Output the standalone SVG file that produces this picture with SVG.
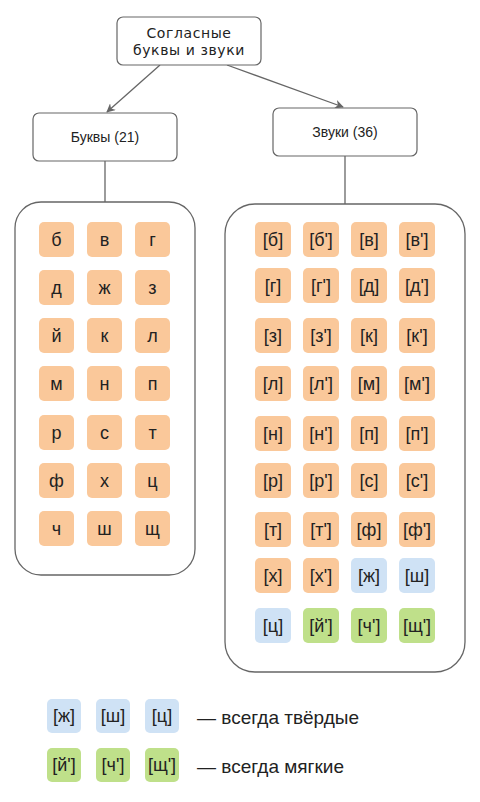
<svg xmlns="http://www.w3.org/2000/svg" width="480" height="802" viewBox="0 0 480 802">
<style>
.box{fill:#fff;stroke:#666;stroke-width:1.2}
.cont{fill:#fff;stroke:#666;stroke-width:1.3}
.o{fill:#fac89a}
.b{fill:#cfe2f5}
.g{fill:#bfe08a}
.t{font-family:"Liberation Sans",Arial,sans-serif;font-size:18px;fill:#222;text-anchor:middle;dominant-baseline:central}
.h{font-family:"Liberation Sans",Arial,sans-serif;font-size:14px;fill:#222;text-anchor:middle;dominant-baseline:central}
.top{font-family:"DejaVu Sans",sans-serif;font-size:14px;fill:#222;text-anchor:middle;letter-spacing:0.6px}
.lg{font-family:"Liberation Sans",Arial,sans-serif;font-size:19px;fill:#222;dominant-baseline:central}
.c{stroke:#666;stroke-width:1.3;fill:none}
</style>
<defs>
<marker id="ar" viewBox="0 0 10 10" refX="9" refY="5" markerWidth="9" markerHeight="9" orient="auto" markerUnits="userSpaceOnUse">
<path d="M0,0 L10,5 L0,10 L3,5 Z" fill="#666"/>
</marker>
</defs>
<g id="connectors">
<line class="c" x1="160" y1="65" x2="107" y2="112" marker-end="url(#ar)"/>
<line class="c" x1="227" y1="65" x2="343" y2="107" marker-end="url(#ar)"/>
<line class="c" x1="105" y1="161" x2="105" y2="202"/>
<line class="c" x1="345" y1="156" x2="345" y2="204"/>
</g>
<g id="root">
<rect class="box" x="117" y="17" width="144" height="48" rx="6"/>
<text class="top" x="189" y="38">Согласные</text>
<text class="top" x="189" y="54.5">буквы и звуки</text>
</g>
<g id="letters">
<rect class="box" x="33" y="113" width="144" height="48" rx="6"/>
<text class="h" x="105" y="137">Буквы (21)</text>
</g>
<g id="sounds">
<rect class="box" x="273" y="108" width="144" height="48" rx="6"/>
<text class="h" x="345" y="132">Звуки (36)</text>
</g>
<g id="letters-grid">
<rect class="cont" x="15" y="202" width="180" height="373" rx="26"/>
<g class="o">
<rect x="39" y="222" width="35" height="35" rx="5"/><rect x="87" y="222" width="35" height="35" rx="5"/><rect x="135" y="222" width="35" height="35" rx="5"/>
<rect x="39" y="270" width="35" height="35" rx="5"/><rect x="87" y="270" width="35" height="35" rx="5"/><rect x="135" y="270" width="35" height="35" rx="5"/>
<rect x="39" y="318" width="35" height="35" rx="5"/><rect x="87" y="318" width="35" height="35" rx="5"/><rect x="135" y="318" width="35" height="35" rx="5"/>
<rect x="39" y="366" width="35" height="35" rx="5"/><rect x="87" y="366" width="35" height="35" rx="5"/><rect x="135" y="366" width="35" height="35" rx="5"/>
<rect x="39" y="415" width="35" height="35" rx="5"/><rect x="87" y="415" width="35" height="35" rx="5"/><rect x="135" y="415" width="35" height="35" rx="5"/>
<rect x="39" y="463" width="35" height="35" rx="5"/><rect x="87" y="463" width="35" height="35" rx="5"/><rect x="135" y="463" width="35" height="35" rx="5"/>
<rect x="39" y="511" width="35" height="35" rx="5"/><rect x="87" y="511" width="35" height="35" rx="5"/><rect x="135" y="511" width="35" height="35" rx="5"/>
</g>
<text class="t" x="56.5" y="239.5">б</text><text class="t" x="104.5" y="239.5">в</text><text class="t" x="152.5" y="239.5">г</text>
<text class="t" x="56.5" y="287.5">д</text><text class="t" x="104.5" y="287.5">ж</text><text class="t" x="152.5" y="287.5">з</text>
<text class="t" x="56.5" y="335.5">й</text><text class="t" x="104.5" y="335.5">к</text><text class="t" x="152.5" y="335.5">л</text>
<text class="t" x="56.5" y="383.5">м</text><text class="t" x="104.5" y="383.5">н</text><text class="t" x="152.5" y="383.5">п</text>
<text class="t" x="56.5" y="432.5">р</text><text class="t" x="104.5" y="432.5">с</text><text class="t" x="152.5" y="432.5">т</text>
<text class="t" x="56.5" y="480.5">ф</text><text class="t" x="104.5" y="480.5">х</text><text class="t" x="152.5" y="480.5">ц</text>
<text class="t" x="56.5" y="528.5">ч</text><text class="t" x="104.5" y="528.5">ш</text><text class="t" x="152.5" y="528.5">щ</text>
</g>
<g id="sounds-grid">
<rect class="cont" x="225" y="204" width="240" height="468" rx="30"/>
<g class="o">
<rect x="255" y="222" width="36" height="35" rx="5"/><rect x="303" y="222" width="36" height="35" rx="5"/><rect x="351" y="222" width="36" height="35" rx="5"/><rect x="399" y="222" width="36" height="35" rx="5"/>
<rect x="255" y="268" width="36" height="35" rx="5"/><rect x="303" y="268" width="36" height="35" rx="5"/><rect x="351" y="268" width="36" height="35" rx="5"/><rect x="399" y="268" width="36" height="35" rx="5"/>
<rect x="255" y="318" width="36" height="35" rx="5"/><rect x="303" y="318" width="36" height="35" rx="5"/><rect x="351" y="318" width="36" height="35" rx="5"/><rect x="399" y="318" width="36" height="35" rx="5"/>
<rect x="255" y="366" width="36" height="35" rx="5"/><rect x="303" y="366" width="36" height="35" rx="5"/><rect x="351" y="366" width="36" height="35" rx="5"/><rect x="399" y="366" width="36" height="35" rx="5"/>
<rect x="255" y="416" width="36" height="35" rx="5"/><rect x="303" y="416" width="36" height="35" rx="5"/><rect x="351" y="416" width="36" height="35" rx="5"/><rect x="399" y="416" width="36" height="35" rx="5"/>
<rect x="255" y="463" width="36" height="35" rx="5"/><rect x="303" y="463" width="36" height="35" rx="5"/><rect x="351" y="463" width="36" height="35" rx="5"/><rect x="399" y="463" width="36" height="35" rx="5"/>
<rect x="255" y="512" width="36" height="35" rx="5"/><rect x="303" y="512" width="36" height="35" rx="5"/><rect x="351" y="512" width="36" height="35" rx="5"/><rect x="399" y="512" width="36" height="35" rx="5"/>
<rect x="255" y="558" width="36" height="35" rx="5"/><rect x="303" y="558" width="36" height="35" rx="5"/>
</g>
<rect class="b" x="351" y="558" width="36" height="35" rx="5"/><rect class="b" x="399" y="558" width="36" height="35" rx="5"/>
<rect class="b" x="255" y="608" width="36" height="35" rx="5"/>
<rect class="g" x="303" y="608" width="36" height="35" rx="5"/><rect class="g" x="351" y="608" width="36" height="35" rx="5"/><rect class="g" x="399" y="608" width="36" height="35" rx="5"/>
<text class="t" x="273" y="239.5">[б]</text><text class="t" x="321" y="239.5">[б']</text><text class="t" x="369" y="239.5">[в]</text><text class="t" x="417" y="239.5">[в']</text>
<text class="t" x="273" y="285.5">[г]</text><text class="t" x="321" y="285.5">[г']</text><text class="t" x="369" y="285.5">[д]</text><text class="t" x="417" y="285.5">[д']</text>
<text class="t" x="273" y="335.5">[з]</text><text class="t" x="321" y="335.5">[з']</text><text class="t" x="369" y="335.5">[к]</text><text class="t" x="417" y="335.5">[к']</text>
<text class="t" x="273" y="383.5">[л]</text><text class="t" x="321" y="383.5">[л']</text><text class="t" x="369" y="383.5">[м]</text><text class="t" x="417" y="383.5">[м']</text>
<text class="t" x="273" y="433.5">[н]</text><text class="t" x="321" y="433.5">[н']</text><text class="t" x="369" y="433.5">[п]</text><text class="t" x="417" y="433.5">[п']</text>
<text class="t" x="273" y="480.5">[р]</text><text class="t" x="321" y="480.5">[р']</text><text class="t" x="369" y="480.5">[с]</text><text class="t" x="417" y="480.5">[с']</text>
<text class="t" x="273" y="529.5">[т]</text><text class="t" x="321" y="529.5">[т']</text><text class="t" x="369" y="529.5">[ф]</text><text class="t" x="417" y="529.5">[ф']</text>
<text class="t" x="273" y="575.5">[х]</text><text class="t" x="321" y="575.5">[х']</text><text class="t" x="369" y="575.5">[ж]</text><text class="t" x="417" y="575.5">[ш]</text>
<text class="t" x="273" y="625.5">[ц]</text><text class="t" x="321" y="625.5">[й']</text><text class="t" x="369" y="625.5">[ч']</text><text class="t" x="417" y="625.5">[щ']</text>
</g>
<g id="legend-hard">
<rect class="b" x="47" y="699" width="34" height="34" rx="5"/><rect class="b" x="96" y="699" width="34" height="34" rx="5"/><rect class="b" x="145" y="699" width="34" height="34" rx="5"/>
<text class="t" x="64" y="716">[ж]</text><text class="t" x="113" y="716">[ш]</text><text class="t" x="162" y="716">[ц]</text>
<text class="lg" x="197" y="717">— всегда твёрдые</text>
</g>
<g id="legend-soft">
<rect class="g" x="47" y="748" width="34" height="34" rx="5"/><rect class="g" x="96" y="748" width="34" height="34" rx="5"/><rect class="g" x="145" y="748" width="34" height="34" rx="5"/>
<text class="t" x="64" y="765">[й']</text><text class="t" x="113" y="765">[ч']</text><text class="t" x="162" y="765">[щ']</text>
<text class="lg" x="197" y="766">— всегда мягкие</text>
</g>
</svg>
